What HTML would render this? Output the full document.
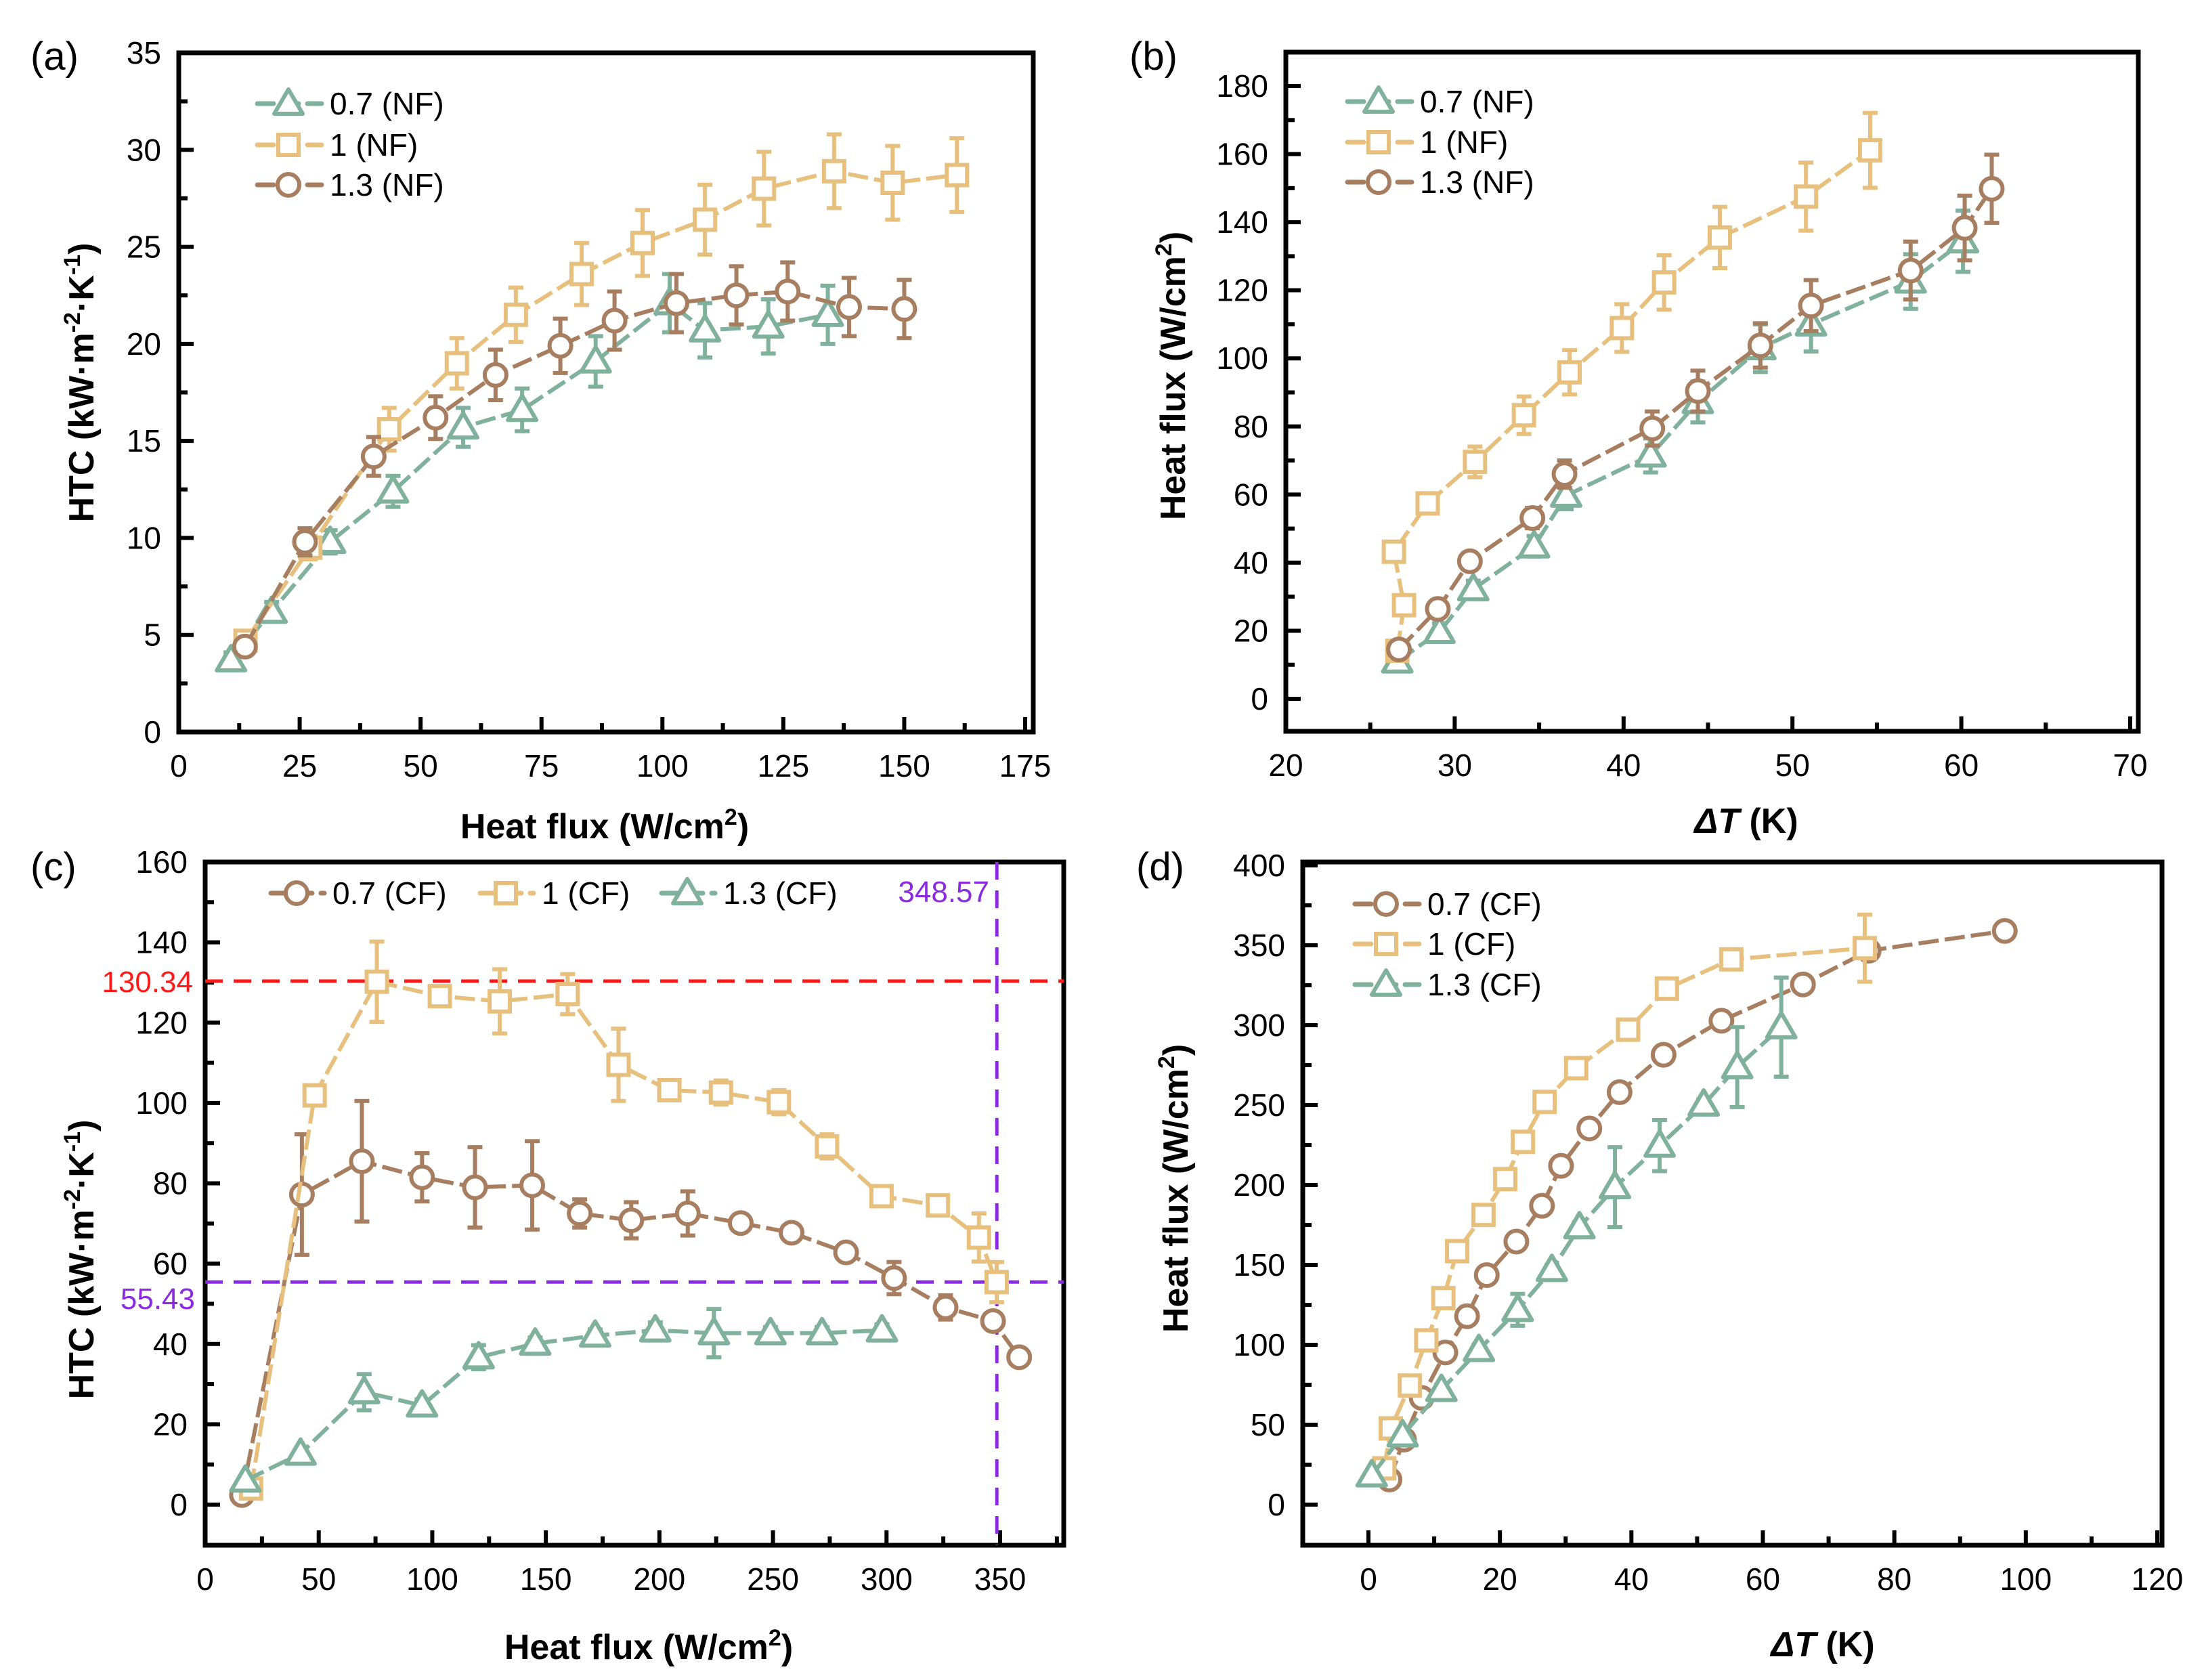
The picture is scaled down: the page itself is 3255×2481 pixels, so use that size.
<!DOCTYPE html>
<html><head><meta charset="utf-8">
<style>
html,body{margin:0;padding:0;background:#fff;}
svg{display:block;}
text{font-family:"Liberation Sans",Arial,sans-serif;}
</style></head>
<body>
<svg id="fig" xmlns="http://www.w3.org/2000/svg" width="3255" height="2481" viewBox="0 0 3255 2481"></svg>
<script>
// ---------- Panel (a) data: HTC vs heat flux (NF) ----------
const aG_x = [10.8,19.2,31.3,44.3,58.8,71,86.2,101.5,108.8,121.9,134.2];
const aG_y = [3.7,6.2,9.8,12.4,15.7,16.6,19.1,22.1,20.7,20.9,21.5];
const aG_e = [0.4,0.5,0.6,0.8,1.0,1.1,1.3,1.5,1.4,1.4,1.5];
const aY_x = [13.8,27.2,43.5,57.5,69.7,83.3,95.9,108.8,121,135.5,147.6,160.9];
const aY_y = [4.7,9.5,15.6,19,21.5,23.6,25.2,26.4,28,28.9,28.3,28.7];
const aY_e = [0.4,0.6,1.1,1.3,1.4,1.6,1.7,1.8,1.9,1.9,1.9,1.9];
const aB_x = [13.7,26.1,40.3,53.1,65.5,78.9,90.1,102.9,115.3,125.9,138.6,150];
const aB_y = [4.4,9.8,14.2,16.2,18.4,19.9,21.2,22.1,22.5,22.7,21.9,21.8];
const aB_e = [0.4,0.7,1.0,1.1,1.3,1.4,1.5,1.5,1.5,1.5,1.5,1.5];
// ---------- Panel (b) data: heat flux vs dT (NF) ----------
const bG_x = [26.6,29.1,31.1,34.7,36.6,41.6,44.4,48.1,51.1,57,60.1];
const bG_y = [11,19.7,32.2,44.8,59.7,71.5,87.2,103,110,122.6,134.4];
const bG_e = [2,2.5,2.5,3,4,5,6,7,8,8,9];
const bY_x = [26.6,27,26.4,28.4,31.2,34.1,36.8,39.9,42.4,45.7,50.8,54.6];
const bY_y = [14.1,27.5,43.2,57.4,69.6,83.3,95.9,108.9,122.3,135.5,147.5,161.1];
const bY_e = [1.5,2,2.5,3,4.5,5.5,6.5,7,8,9,10,11];
const bB_x = [26.7,29,30.9,34.6,36.5,41.7,44.4,48.1,51.1,57,60.2,61.8];
const bB_y = [14.5,26.4,40.4,53.1,66,79.4,90.4,103.8,115.5,125.8,138.3,149.8];
const bB_e = [1.5,2,2.5,3,4,5,6,6.5,7.5,8.5,9.5,10];
// ---------- Panel (c) data: HTC vs heat flux (CF) ----------
const cB_x = [16.2,42.6,69,95.5,118.8,144,164.9,187.6,212.5,235.8,258.2,282.2,303.3,326,346.9,358.4];
const cB_y = [2.4,77.2,85.5,81.5,79,79.5,72.5,70.8,72.5,70.1,67.7,62.8,56.4,49.1,45.7,36.7];
const cB_e = [0.5,15,15,6,10,11,3.5,4.5,5.5,2,1.5,1.5,4,3,1.5,1.5];
const cY_x = [20.2,48.2,75.6,103.3,129.7,159.6,182,204.4,227.1,252.6,273.8,297.8,322.6,340.7,348.5];
const cY_y = [4,101.9,130.2,126.6,125.3,127.1,109.5,103.2,102.6,100.2,89.2,76.8,74.5,66.5,55.4];
const cY_e = [0.5,1.5,10,2,8,5,9,1.5,3,3,3,1.5,1.5,6,5];
const cG_x = [17.7,42,70,95.5,120.4,145.3,171.7,198.2,224,248.9,271.6,298];
const cG_y = [6,12.7,28,24.7,36.7,40.1,42.1,43.4,42.7,42.7,42.7,43.4];
const cG_e = [0.5,1,4.5,1.5,3,1.5,1.5,2,6,1.5,1.5,1.5];
const cRefH1 = 130.34, cRefH2 = 55.43, cRefV = 348.57;
// ---------- Panel (d) data: heat flux vs dT (CF) ----------
const dB_x = [3.2,5.4,8.1,11.7,15,18,22.5,26.4,29.3,33.6,38.2,44.9,53.7,66.1,76.1,96.8];
const dB_y = [15.7,40.7,66.8,95.2,117.9,143.6,164.6,187,212,235.4,258.1,281.5,302.8,325.5,346.6,359];
const dB_e = [1,1,1.5,2,2,2,2.5,2.5,3,3,3,3,3,3,3,3];
const dY_x = [2.4,3.4,6.3,8.8,11.4,13.5,17.5,20.8,23.5,26.8,31.6,39.5,45.4,55.2,75.5];
const dY_y = [22.7,47.7,74.5,102.8,129.2,158.6,181.3,203.7,227,252,273.1,297.2,322.9,341.2,348.2];
const dY_e = [1,1.5,2,2,2,2,2,2.5,2.5,2.5,3,3,3,3,21];
const dG_x = [0.5,5.2,11.1,16.8,22.7,27.9,32.1,37.5,44.3,51,56.1,62.8];
const dG_y = [18.4,43.4,71.8,96.8,121.9,146.9,173.6,198.7,224.7,250.4,273.8,298.8];
const dG_e = [1,2,3,3,10,3,3,25,16,3,25,31];

const GREEN = '#7fb19d', TAN = '#e7c07e', BROWN = '#a77f60';
const NS = 'http://www.w3.org/2000/svg';
const svg = document.getElementById('fig');

function mk(tag, attrs, parent) {
  const e = document.createElementNS(NS, tag);
  for (const k in attrs) e.setAttribute(k, attrs[k]);
  (parent || svg).appendChild(e);
  return e;
}
function txt(s, attrs, parent) { const t = mk('text', attrs, parent); t.textContent = s; return t; }

function linScale(v0, p0, v1, p1) { return v => p0 + (v - v0) * (p1 - p0) / (v1 - v0); }

function marker(g, shape, cx, cy, color) {
  let m;
  if (shape === 'circle') {
    m = mk('circle', {cx: cx, cy: cy, r: 16, fill: '#fff', stroke: color, 'stroke-width': 6}, g);
  } else if (shape === 'square') {
    m = mk('rect', {x: cx - 15, y: cy - 15, width: 30, height: 30, fill: '#fff', stroke: color, 'stroke-width': 6}, g);
  } else {
    m = mk('polygon', {points: `${cx},${cy-21} ${cx+21},${cy+15} ${cx-21},${cy+15}`, fill: '#fff', stroke: color, 'stroke-width': 6, 'stroke-linejoin': 'round'}, g);
  }
  return m;
}

function drawSeries(panel, name, xs, ys, es, X, Y, color, shape) {
  const g = mk('g', {}, panel);
  
  
  const pts = xs.map((x, i) => `${X(x).toFixed(1)},${Y(ys[i]).toFixed(1)}`).join(' ');
  const line = mk('polyline', {points: pts, fill: 'none', stroke: color, 'stroke-width': 6, 'stroke-dasharray': '30,9', 'stroke-linejoin': 'round'}, g);
  
  
  xs.forEach((x, i) => {
    const cx = X(x), y1 = Y(ys[i] + es[i]), y2 = Y(ys[i] - es[i]);
    const eb = mk('path', {d: `M${cx},${y1}V${y2}M${cx-11},${y1}H${cx+11}M${cx-11},${y2}H${cx+11}`, stroke: color, 'stroke-width': 6, fill: 'none'}, g);
    
    
  });
  xs.forEach((x, i) => {
    const m = marker(g, shape, X(x), Y(ys[i]), color);
    
    
  });
}

function axes(panel, F, X, Y, xt, xminor, yt, yminor) {
  const fr = mk('rect', {x: F.l, y: F.t, width: F.r - F.l, height: F.b - F.t, fill: 'none', stroke: '#000', 'stroke-width': 7}, panel);
  
  
  const xg = mk('g', {}, panel);
  
  
  xt.forEach(v => {
    const px = X(v);
    mk('line', {x1: px, y1: F.b, x2: px, y2: F.b - 22, stroke: '#000', 'stroke-width': 6}, xg);
    const t = txt(String(v), {x: px, y: F.b + 66, 'font-size': 46, 'text-anchor': 'middle'}, xg);
    
    
  });
  xminor.forEach(v => mk('line', {x1: X(v), y1: F.b, x2: X(v), y2: F.b - 13, stroke: '#000', 'stroke-width': 6}, xg));
  const yg = mk('g', {}, panel);
  
  
  yt.forEach(v => {
    const py = Y(v);
    mk('line', {x1: F.l, y1: py, x2: F.l + 22, y2: py, stroke: '#000', 'stroke-width': 6}, yg);
    const t = txt(String(v), {x: F.l - 26, y: py + 16, 'font-size': 46, 'text-anchor': 'end'}, yg);
    
    
  });
  yminor.forEach(v => mk('line', {x1: F.l, y1: Y(v), x2: F.l + 13, y2: Y(v), stroke: '#000', 'stroke-width': 6}, yg));
}

function legendEntry(panel, x, y, label, color, shape, len) {
  const g = mk('g', {}, panel);
  
  
  len = len || 98;
  mk('line', {x1: x, y1: y, x2: x + len, y2: y, stroke: color, 'stroke-width': 7, 'stroke-dasharray': '24,13', 'stroke-linecap': 'round', 'stroke-dashoffset': -3}, g);
  marker(g, shape, x + len / 2, y, color);
  txt(label, {x: x + len + 12, y: y + 16, 'font-size': 46}, g);
}

function rng(a, b, s) { const o = []; for (let v = a; v <= b + 1e-9; v += s) o.push(+v.toFixed(3)); return o; }

const SUP = '<tspan dy="-20" font-size="34">';

// ---------- Panel (a) ----------
(function () {
  const p = mk('g', {});
  
  
  const F = {l: 264, t: 78, r: 1526, b: 1081};
  const X = linScale(0, 264, 175, 1514), Y = linScale(0, 1081, 35, 78);
  axes(p, F, X, Y, rng(0, 175, 25), rng(12.5, 162.5, 25), rng(0, 35, 5), rng(2.5, 32.5, 5));
  drawSeries(p, 'htc-0.7-nf', aG_x, aG_y, aG_e, X, Y, GREEN, 'tri');
  drawSeries(p, 'htc-1-nf', aY_x, aY_y, aY_e, X, Y, TAN, 'square');
  drawSeries(p, 'htc-1.3-nf', aB_x, aB_y, aB_e, X, Y, BROWN, 'circle');
  legendEntry(p, 377, 153, '0.7 (NF)', GREEN, 'tri');
  legendEntry(p, 377, 214, '1 (NF)', TAN, 'square');
  legendEntry(p, 377, 273, '1.3 (NF)', BROWN, 'circle');
  const l = txt('(a)', {x: 45, y: 103, 'font-size': 58}, p);
   
  const xt = txt('', {x: 893, y: 1238, 'font-size': 52, 'font-weight': 'bold', 'text-anchor': 'middle'}, p);
  xt.innerHTML = 'Heat flux (W/cm' + SUP + '2</tspan><tspan dy="20">)</tspan>';
   
  const yt = txt('', {x: 0, y: 0, 'font-size': 52, 'font-weight': 'bold', 'text-anchor': 'middle', transform: 'translate(138,565) rotate(-90)'}, p);
  yt.innerHTML = 'HTC (kW·m' + SUP + '-2</tspan><tspan dy="20">·K</tspan>' + SUP + '-1</tspan><tspan dy="20">)</tspan>';
   
})();

// ---------- Panel (b) ----------
(function () {
  const p = mk('g', {});
  
  
  const F = {l: 1899, t: 77, r: 3158, b: 1080};
  const X = linScale(20, 1899, 70, 3146), Y = linScale(0, 1032, 180, 127);
  axes(p, F, X, Y, rng(20, 70, 10), rng(25, 65, 10), rng(0, 180, 20), rng(10, 170, 20));
  drawSeries(p, 'hf-0.7-nf', bG_x, bG_y, bG_e, X, Y, GREEN, 'tri');
  drawSeries(p, 'hf-1-nf', bY_x, bY_y, bY_e, X, Y, TAN, 'square');
  drawSeries(p, 'hf-1.3-nf', bB_x, bB_y, bB_e, X, Y, BROWN, 'circle');
  legendEntry(p, 1987, 150, '0.7 (NF)', GREEN, 'tri');
  legendEntry(p, 1987, 210, '1 (NF)', TAN, 'square');
  legendEntry(p, 1987, 269, '1.3 (NF)', BROWN, 'circle');
  const l = txt('(b)', {x: 1668, y: 103, 'font-size': 58}, p);
   
  const xt = txt('', {x: 2579, y: 1230, 'font-size': 52, 'font-weight': 'bold', 'text-anchor': 'middle'}, p);
  xt.innerHTML = '<tspan font-style="italic">ΔT</tspan> (K)';
   
  const yt = txt('', {x: 0, y: 0, 'font-size': 52, 'font-weight': 'bold', 'text-anchor': 'middle', transform: 'translate(1750,555) rotate(-90)'}, p);
  yt.innerHTML = 'Heat flux (W/cm' + SUP + '2</tspan><tspan dy="20">)</tspan>';
   
})();

// ---------- Panel (c) ----------
(function () {
  const p = mk('g', {});
  
  
  const F = {l: 303, t: 1273, r: 1571, b: 2282};
  const X = linScale(0, 303, 350, 1477), Y = linScale(0, 2222, 160, 1273);
  axes(p, F, X, Y, rng(0, 350, 50), rng(25, 375, 50), rng(0, 160, 20), rng(10, 150, 20));
  const r1 = mk('line', {x1: F.l, y1: Y(cRefH1), x2: F.r, y2: Y(cRefH1), stroke: '#ff1a1a', 'stroke-width': 5, 'stroke-dasharray': '26,16'}, p);
   
  const r2 = mk('line', {x1: F.l, y1: Y(cRefH2), x2: F.r, y2: Y(cRefH2), stroke: '#8a2be2', 'stroke-width': 5, 'stroke-dasharray': '26,16'}, p);
   
  const r3 = mk('line', {x1: X(cRefV), y1: F.t, x2: X(cRefV), y2: F.b, stroke: '#8a2be2', 'stroke-width': 5, 'stroke-dasharray': '26,16'}, p);
   
  drawSeries(p, 'htc-0.7-cf', cB_x, cB_y, cB_e, X, Y, BROWN, 'circle');
  drawSeries(p, 'htc-1-cf', cY_x, cY_y, cY_e, X, Y, TAN, 'square');
  drawSeries(p, 'htc-1.3-cf', cG_x, cG_y, cG_e, X, Y, GREEN, 'tri');
  legendEntry(p, 397, 1319, '0.7 (CF)', BROWN, 'circle', 82);
  legendEntry(p, 706, 1319, '1 (CF)', TAN, 'square', 82);
  legendEntry(p, 974, 1319, '1.3 (CF)', GREEN, 'tri', 82);
  const a1 = txt(cRefV.toFixed(2), {x: 1461, y: 1332, 'font-size': 44, fill: '#8a2be2', 'text-anchor': 'end'}, p);
   
  const a2 = txt(cRefH1.toFixed(2), {x: 285, y: Y(cRefH1) + 16, 'font-size': 44, fill: '#ff1a1a', 'text-anchor': 'end'}, p);
   
  const a3 = txt(cRefH2.toFixed(2), {x: 288, y: 1933, 'font-size': 44, fill: '#8a2be2', 'text-anchor': 'end'}, p);
   
  const l = txt('(c)', {x: 45, y: 1300, 'font-size': 58}, p);
   
  const xt = txt('', {x: 958, y: 2450, 'font-size': 52, 'font-weight': 'bold', 'text-anchor': 'middle'}, p);
  xt.innerHTML = 'Heat flux (W/cm' + SUP + '2</tspan><tspan dy="20">)</tspan>';
   
  const yt = txt('', {x: 0, y: 0, 'font-size': 52, 'font-weight': 'bold', 'text-anchor': 'middle', transform: 'translate(138,1860) rotate(-90)'}, p);
  yt.innerHTML = 'HTC (kW·m' + SUP + '-2</tspan><tspan dy="20">·K</tspan>' + SUP + '-1</tspan><tspan dy="20">)</tspan>';
   
})();

// ---------- Panel (d) ----------
(function () {
  const p = mk('g', {});
  
  
  const F = {l: 1924, t: 1273, r: 3193, b: 2282};
  const X = linScale(0, 2021, 120, 3186), Y = linScale(0, 2222, 400, 1278);
  axes(p, F, X, Y, rng(0, 120, 20), rng(10, 110, 20), rng(0, 400, 50), rng(25, 375, 50));
  drawSeries(p, 'hf-0.7-cf', dB_x, dB_y, dB_e, X, Y, BROWN, 'circle');
  drawSeries(p, 'hf-1-cf', dY_x, dY_y, dY_e, X, Y, TAN, 'square');
  drawSeries(p, 'hf-1.3-cf', dG_x, dG_y, dG_e, X, Y, GREEN, 'tri');
  legendEntry(p, 1998, 1335, '0.7 (CF)', BROWN, 'circle');
  legendEntry(p, 1998, 1394, '1 (CF)', TAN, 'square');
  legendEntry(p, 1998, 1454, '1.3 (CF)', GREEN, 'tri');
  const l = txt('(d)', {x: 1678, y: 1300, 'font-size': 58}, p);
   
  const xt = txt('', {x: 2692, y: 2446, 'font-size': 52, 'font-weight': 'bold', 'text-anchor': 'middle'}, p);
  xt.innerHTML = '<tspan font-style="italic">ΔT</tspan> (K)';
   
  const yt = txt('', {x: 0, y: 0, 'font-size': 52, 'font-weight': 'bold', 'text-anchor': 'middle', transform: 'translate(1754,1755) rotate(-90)'}, p);
  yt.innerHTML = 'Heat flux (W/cm' + SUP + '2</tspan><tspan dy="20">)</tspan>';
   
})();
</script>
</body></html>
